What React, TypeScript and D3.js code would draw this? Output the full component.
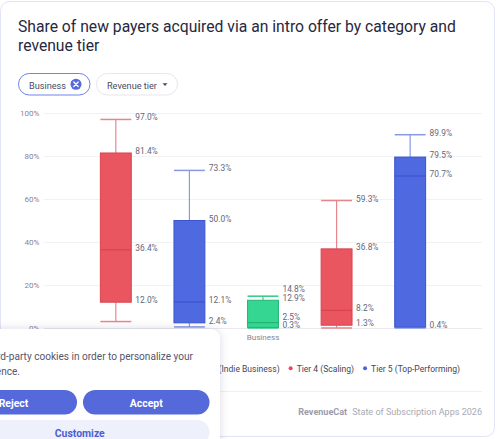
import { useEffect, useRef } from "react"
import * as d3 from "d3"

const categories = ["Business"]
const tiers = [
  "Tier 1 (Hobbyist)",
  "Tier 2 (Emerging)",
  "Tier 3 (Indie Business)",
  "Tier 4 (Scaling)",
  "Tier 5 (Top-Performing)",
]
// box statistics per tier, in percent
const mins = [3.0, 0.5, 0.0, 0.0, 0.0]
const q1s = [12.0, 2.4, 0.3, 1.3, 0.4]
const medians = [36.4, 12.1, 2.5, 8.2, 70.7]
const q3s = [81.4, 50.0, 12.9, 36.8, 79.5]
const maxs = [97.0, 73.3, 14.8, 59.3, 89.9]
const yTicks = [0, 20, 40, 60, 80, 100]

interface Palette {
  fill: string
  stroke: string
  whisker: string
  dot: string
}

const red: Palette = { fill: "#e9565f", stroke: "#d9434e", whisker: "#e5868d", dot: "#e9465a" }
const blue: Palette = { fill: "#4f6ae1", stroke: "#3b53cc", whisker: "#8898e3", dot: "#4a63dc" }
const green: Palette = { fill: "#34d691", stroke: "#1fb673", whisker: "#2fcb86", dot: "#2fcb86" }
const palettes = [red, blue, green, red, blue]

const FONT = "Roboto, 'Liberation Sans', Arial, sans-serif"

const App = () => {
  const svgRef = useRef<SVGSVGElement | null>(null)

  useEffect(() => {
    if (!svgRef.current) return
    const svg = d3.select(svgRef.current)
    svg.selectAll("*").remove()

    const width = 500
    const plot = { left: 44, right: 482, top: 113, bottom: 328 }

    // font size that makes `str` span `target` px
    const probe = svg.append("text").attr("font-family", FONT).attr("x", -999).attr("y", -999)
    const sizeFor = (str: string, target: number, weight = 400) => {
      probe.attr("font-size", 20).attr("font-weight", weight).text(str)
      const w = (probe.node() as SVGTextElement).getComputedTextLength()
      return (20 * target) / w
    }

    const defs = svg.append("defs")
    const shadow = defs.append("filter").attr("id", "popup-shadow").attr("x", "-20%").attr("y", "-30%").attr("width", "140%").attr("height", "160%")
    shadow.append("feDropShadow").attr("dx", 0).attr("dy", 0).attr("stdDeviation", 5).attr("flood-color", "#1c1f3a").attr("flood-opacity", 0.14)

    // card
    svg.append("rect").attr("width", width).attr("height", 439).attr("fill", "#ffffff")
    svg
      .append("rect")
      .attr("x", 0.5)
      .attr("y", 1.5)
      .attr("width", 494)
      .attr("height", 435)
      .attr("rx", 9)
      .attr("fill", "#ffffff")
      .attr("stroke", "#e2e5f6")

    // title
    const titleLine = "Share of new payers acquired via an intro offer by category and"
    const title = svg
      .append("text")
      .attr("font-family", FONT)
      .attr("font-size", sizeFor(titleLine, 438))
      .attr("font-weight", 400)
      .attr("fill", "#262840")
    title.append("tspan").attr("x", 18).attr("y", 32).text(titleLine)
    title.append("tspan").attr("x", 18).attr("y", 51).text("revenue tier")

    // filter chips
    const chipSize = sizeFor("Business", 37)
    const chip1 = svg.append("g").attr("transform", "translate(18.5,73.5)")
    chip1.append("rect").attr("width", 71.5).attr("height", 21.5).attr("rx", 10.75).attr("fill", "#fff").attr("stroke", "#7083e6")
    chip1.append("text").attr("x", 10.5).attr("y", 15).attr("font-family", FONT).attr("font-size", chipSize).attr("fill", "#4a4b5e").text("Business")
    chip1.append("circle").attr("cx", 57.5).attr("cy", 10.75).attr("r", 5.5).attr("fill", "#5669de")
    chip1
      .append("path")
      .attr("d", "M55.3,8.55L59.7,12.95M59.7,8.55L55.3,12.95")
      .attr("stroke", "#fff")
      .attr("stroke-width", 1.3)
      .attr("stroke-linecap", "round")

    const chip2 = svg.append("g").attr("transform", "translate(96.5,73.5)")
    chip2.append("rect").attr("width", 81).attr("height", 21.5).attr("rx", 10.75).attr("fill", "#fff").attr("stroke", "#e6e7ef")
    chip2.append("text").attr("x", 10.5).attr("y", 15).attr("font-family", FONT).attr("font-size", chipSize).attr("fill", "#4a4b5e").text("Revenue tier")
    chip2.append("path").attr("d", "M66,9.8L71,9.8L68.5,12.6Z").attr("fill", "#4a4b5e")

    // scales
    const y = d3.scaleLinear().domain([0, 100]).range([plot.bottom, plot.top])
    const x0 = d3.scaleBand<string>().domain(categories).range([plot.left, plot.right]).paddingInner(0.16).paddingOuter(0.08)
    const x1 = d3.scaleBand<string>().domain(tiers).range([0, x0.bandwidth()]).paddingInner(0.58).paddingOuter(0.29)

    const axisSize = sizeFor("100%", 19.5)

    // grid + y labels
    const grid = svg.append("g")
    grid
      .selectAll("line")
      .data(yTicks)
      .join("line")
      .attr("x1", plot.left)
      .attr("x2", plot.right)
      .attr("y1", (d) => Math.round(y(d)) + 0.5)
      .attr("y2", (d) => Math.round(y(d)) + 0.5)
      .attr("stroke", (d) => (d === 0 ? "#e9e9ee" : "#f2f2f5"))
    grid
      .selectAll("text")
      .data(yTicks)
      .join("text")
      .attr("x", 39.5)
      .attr("y", (d) => y(d) + 3.3)
      .attr("text-anchor", "end")
      .attr("font-family", FONT)
      .attr("font-size", axisSize)
      .attr("fill", "#85869a")
      .text((d) => `${d}%`)

    // x category labels
    svg
      .append("g")
      .selectAll("text")
      .data(categories)
      .join("text")
      .attr("x", (d) => (x0(d) ?? 0) + x0.bandwidth() / 2)
      .attr("y", 340)
      .attr("text-anchor", "middle")
      .attr("font-family", FONT)
      .attr("font-size", axisSize)
      .attr("fill", "#85869a")
      .text((d) => d)

    // boxes
    const valueSize = sizeFor("97.0%", 22.5)
    const boxes = svg.append("g")
    tiers.forEach((tier, i) => {
      const pal = palettes[i]
      const bx = (x0(categories[0]) ?? 0) + (x1(tier) ?? 0)
      const bw = x1.bandwidth()
      const cx = bx + bw / 2
      const g = boxes.append("g")

      // whiskers
      g.append("line").attr("x1", cx).attr("x2", cx).attr("y1", y(q3s[i])).attr("y2", y(maxs[i])).attr("stroke", pal.whisker).attr("stroke-width", 1.2)
      g.append("line").attr("x1", cx).attr("x2", cx).attr("y1", y(q1s[i])).attr("y2", y(mins[i])).attr("stroke", pal.whisker).attr("stroke-width", 1.2)
      g.append("line").attr("x1", bx).attr("x2", bx + bw).attr("y1", y(maxs[i])).attr("y2", y(maxs[i])).attr("stroke", pal.whisker).attr("stroke-width", 1.5)
      g.append("line").attr("x1", bx).attr("x2", bx + bw).attr("y1", y(mins[i])).attr("y2", y(mins[i])).attr("stroke", pal.whisker).attr("stroke-width", 1.5)

      // box + median
      g.append("rect")
        .attr("x", bx)
        .attr("y", y(q3s[i]))
        .attr("width", bw)
        .attr("height", y(q1s[i]) - y(q3s[i]))
        .attr("fill", pal.fill)
        .attr("stroke", pal.stroke)
        .attr("stroke-width", 1)
      g.append("line").attr("x1", bx).attr("x2", bx + bw).attr("y1", y(medians[i])).attr("y2", y(medians[i])).attr("stroke", pal.stroke).attr("stroke-width", 1.2)

      // value labels, pushed apart from the bottom up
      const vals = [q1s[i], medians[i], q3s[i], maxs[i]]
      let prev = Infinity
      const positions = vals.map((v) => {
        let ly = y(v) - 2.5
        if (ly > prev - 8.8) ly = prev - 8.8
        prev = ly
        return ly
      })
      g.selectAll("text")
        .data(vals)
        .join("text")
        .attr("x", bx + bw + 4)
        .attr("y", (_d, k) => positions[k] + 3.5)
        .attr("font-family", FONT)
        .attr("font-size", valueSize)
        .attr("fill", "#65667a")
        .text((d) => `${d.toFixed(1)}%`)
    })

    // legend, laid out from the right edge
    const legendSize = sizeFor(tiers[4], 89)
    const legend = svg.append("g").attr("font-family", FONT).attr("font-size", legendSize).attr("fill", "#45465a")
    const items = tiers.map((t, i) => {
      const it = legend.append("g")
      it.append("circle").attr("cx", 0).attr("cy", -3.8).attr("r", 2).attr("fill", palettes[i].dot)
      const txt = it.append("text").attr("x", 6).attr("y", 0).text(t)
      return { it, w: (txt.node() as SVGTextElement).getComputedTextLength() }
    })
    let right = 460
    for (let k = items.length - 1; k >= 0; k--) {
      const dotX = right - items[k].w - 6
      items[k].it.attr("transform", `translate(${dotX},372)`)
      right = dotX - 11
    }

    // footer
    svg.append("line").attr("x1", 18).attr("x2", plot.right).attr("y1", 391.5).attr("y2", 391.5).attr("stroke", "#f0f0f4")
    const footSize = sizeFor("State of Subscription Apps 2026", 130)
    const footer = svg
      .append("text")
      .attr("y", 415)
      .attr("x", plot.right)
      .attr("text-anchor", "end")
      .attr("font-family", FONT)
      .attr("font-size", footSize)
      .attr("fill", "#a8a9b6")
    footer.append("tspan").attr("font-weight", 700).attr("fill", "#9c9dab").text("RevenueCat")
    footer.append("tspan").attr("dx", 5).text("State of Subscription Apps 2026")

    // cookie banner
    const banner = svg.append("g")
    banner.append("rect").attr("x", -30).attr("y", 329).attr("width", 250).attr("height", 140).attr("rx", 10).attr("fill", "#fff").attr("filter", "url(#popup-shadow)")
    const msgSize = sizeFor("d-party cookies in order to personalize your", 193)
    const msg = banner.append("text").attr("font-family", FONT).attr("font-size", msgSize).attr("fill", "#55566a").attr("text-anchor", "end")
    msg.append("tspan").attr("x", 193).attr("y", 360).text("We use third-party cookies in order to personalize your")
    msg.append("tspan").attr("x", 20).attr("y", 375).text("experience.")

    const btnSize = sizeFor("Accept", 33, 700)
    const btn = (bx: number, by: number, bw: number, label: string, fill: string, color: string) => {
      banner.append("rect").attr("x", bx).attr("y", by).attr("width", bw).attr("height", 24.5).attr("rx", 12.25).attr("fill", fill)
      banner
        .append("text")
        .attr("x", bx + bw / 2)
        .attr("y", by + 16.5)
        .attr("text-anchor", "middle")
        .attr("font-family", FONT)
        .attr("font-size", btnSize)
        .attr("font-weight", 700)
        .attr("fill", color)
        .text(label)
    }
    btn(-50, 390, 127, "Reject", "#5569da", "#ffffff")
    btn(83, 390, 126.5, "Accept", "#5569da", "#ffffff")
    btn(-50, 420, 259.5, "Customize", "#eef0fc", "#4c5fd2")

    probe.remove()
  }, [])

  return (
    <div style={{ position: "fixed", left: 0, top: 0, width: 500, height: 439, overflow: "hidden" }}>
      <svg ref={svgRef} width={500} height={439} style={{ display: "block" }} />
    </div>
  )
}

export default App
